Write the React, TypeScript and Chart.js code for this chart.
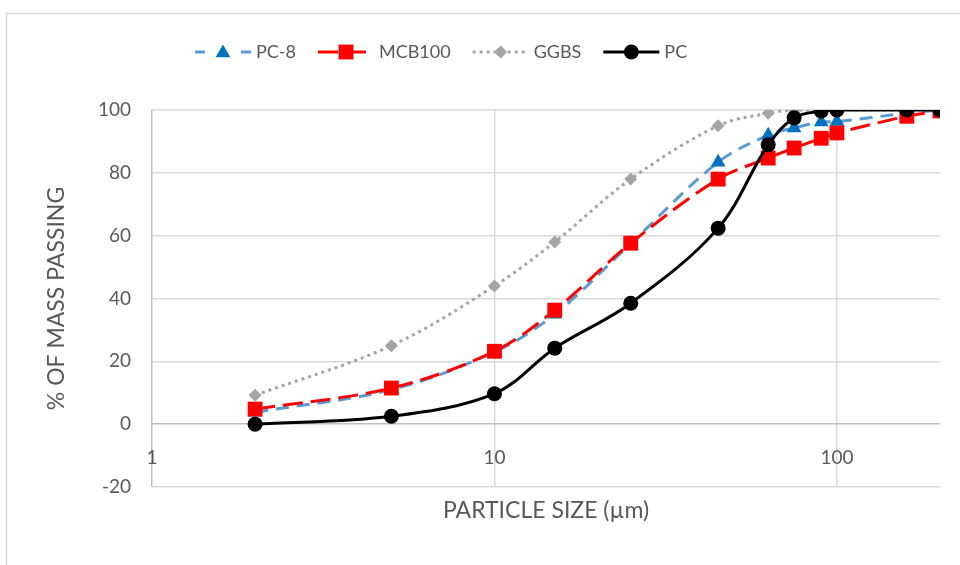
import React, { useEffect, useRef } from 'react';
import { Chart, registerables } from 'chart.js';
Chart.register(...registerables);

// Particle sizes (µm)
const sizes = [2, 5, 10, 15, 25, 45, 63, 75, 90, 100, 160, 200];
// % passing per material
const pc8 = [3.8, 11, 23, 35, 57.5, 83.4, 92, 94.3, 96.2, 96.3, 99, 100];
const mcb100 = [4.8, 11.5, 23.2, 36.3, 57.6, 78, 84.7, 87.9, 91, 92.7, 98, 99.7];
const ggbs = [9.2, 25, 44, 58, 78, 95, 99, 100, 100, 100, 100, 100];
const pc = [0, 2.5, 9.7, 24.2, 38.5, 62.4, 88.9, 97.5, 99.7, 100, 100, 100];

const xTicks = [1, 10, 100];
const xMin = 1;
const xMax = 200;
const yMin = -20;
const yMax = 100;
const yStep = 20;

const legendLabels = ['PC-8', 'MCB100', 'GGBS', 'PC'];

const FONT = 'Lato, "Open Sans", sans-serif';
const TEXT = '#595959';
const GRID = '#D9D9D9';
const AXIS = '#BFBFBF';

type Style = {
  label: string;
  line: string;
  marker: string;
  dash: number[];
  point: string;
  r: number;
  cap: CanvasLineCap;
};

const styles: Style[] = [
  { label: legendLabels[0], line: '#5B9BD5', marker: '#0070C0', dash: [13, 8], point: 'triangle', r: 8.5, cap: 'butt' },
  { label: legendLabels[1], line: '#FF0000', marker: '#FF0000', dash: [20, 8], point: 'rect', r: 10.5, cap: 'butt' },
  { label: legendLabels[2], line: '#A5A5A5', marker: '#A5A5A5', dash: [3, 4], point: 'rectRot', r: 6.5, cap: 'butt' },
  { label: legendLabels[3], line: '#000000', marker: '#000000', dash: [], point: 'circle', r: 7.5, cap: 'butt' },
];

const seriesValues = [pc8, mcb100, ggbs, pc];

function drawMarker(ctx: CanvasRenderingContext2D, style: string, x: number, y: number, r: number, color: string) {
  ctx.save();
  ctx.fillStyle = color;
  ctx.setLineDash([]);
  ctx.beginPath();
  if (style === 'circle') {
    ctx.arc(x, y, r, 0, Math.PI * 2);
  } else if (style === 'rect') {
    const s = Math.SQRT1_2 * r;
    ctx.rect(x - s, y - s, 2 * s, 2 * s);
  } else if (style === 'rectRot') {
    ctx.moveTo(x - r, y);
    ctx.lineTo(x, y - r);
    ctx.lineTo(x + r, y);
    ctx.lineTo(x, y + r);
    ctx.closePath();
  } else if (style === 'triangle') {
    const h = r * 1.5;
    const w = r * Math.sqrt(3);
    ctx.moveTo(x, y - r);
    ctx.lineTo(x + w / 2, y - r + h);
    ctx.lineTo(x - w / 2, y - r + h);
    ctx.closePath();
  }
  ctx.fill();
  ctx.restore();
}

const framePlugin = {
  id: 'frame',
  beforeDraw(chart: any) {
    const ctx = chart.ctx as CanvasRenderingContext2D;
    ctx.save();
    ctx.fillStyle = '#FFFFFF';
    ctx.fillRect(0, 0, chart.width, chart.height);
    ctx.strokeStyle = GRID;
    ctx.lineWidth = 1.5;
    ctx.strokeRect(6.5, 13.5, chart.width + 20, chart.height + 20);
    ctx.restore();
  },
  afterDraw(chart: any) {
    const ctx = chart.ctx as CanvasRenderingContext2D;
    // x tick labels, placed just under the y = 0 axis line (Excel style)
    const xs = chart.scales.x;
    const ys = chart.scales.y;
    ctx.save();
    ctx.font = `19px ${FONT}`;
    ctx.fillStyle = TEXT;
    ctx.textAlign = 'center';
    ctx.textBaseline = 'middle';
    const labelY = ys.getPixelForValue(0) + 34;
    for (const v of xTicks) {
      ctx.fillText(String(v), xs.getPixelForValue(v), labelY);
    }
    ctx.restore();

    // legend
    ctx.save();
    ctx.font = `18px ${FONT}`;
    ctx.textBaseline = 'middle';
    ctx.textAlign = 'left';
    let x = 195;
    const y = 52;
    const lineLen = 56;
    for (const s of styles) {
      ctx.save();
      ctx.strokeStyle = s.line;
      ctx.lineWidth = 3;
      ctx.lineCap = s.cap;
      if (s.point === 'triangle') {
        ctx.beginPath();
        ctx.moveTo(x, y);
        ctx.lineTo(x + 10, y);
        ctx.moveTo(x + lineLen - 10, y);
        ctx.lineTo(x + lineLen, y);
        ctx.stroke();
      } else {
        ctx.setLineDash(s.dash);
        ctx.beginPath();
        ctx.moveTo(x, y);
        ctx.lineTo(x + lineLen, y);
        ctx.stroke();
      }
      ctx.restore();
      drawMarker(ctx, s.point, x + lineLen / 2, y + (s.point === 'triangle' ? 1 : 0), s.r, s.marker);
      ctx.fillStyle = TEXT;
      ctx.fillText(s.label, x + lineLen + 5, y);
      x += lineLen + 5 + ctx.measureText(s.label).width + 22;
    }
    ctx.restore();
  },
};

export default function App() {
  const ref = useRef<HTMLCanvasElement | null>(null);

  useEffect(() => {
    if (!ref.current) return;
    const datasets = styles
      .map((s, i) => ({
        label: s.label,
        data: sizes.map((x, j) => ({ x, y: seriesValues[i][j] })),
        borderColor: s.line,
        backgroundColor: s.marker,
        borderWidth: 3,
        borderDash: s.dash,
        borderCapStyle: s.cap,
        pointStyle: s.point,
        pointRadius: s.r,
        pointHoverRadius: s.r,
        pointBackgroundColor: s.marker,
        pointBorderColor: s.marker,
        pointBorderWidth: 0,
        tension: 0.35,
        fill: false,
      }))
      .reverse();

    const chart = new Chart(ref.current, {
      type: 'line',
      data: { datasets },
      options: {
        responsive: false,
        animation: false,
        layout: { padding: { top: 110, right: 20, left: 0, bottom: 0 } },
        plugins: {
          legend: { display: false },
          tooltip: { enabled: false },
        },
        scales: {
          x: {
            type: 'logarithmic',
            min: xMin,
            max: xMax,
            afterBuildTicks: (s: any) => {
              s.ticks = xTicks.map((v) => ({ value: v }));
            },
            afterFit: (s: any) => {
              s.height = 78;
            },
            grid: {
              color: (c: any) => (c.tick && c.tick.value === 1 ? AXIS : GRID),
              lineWidth: 1.5,
              drawTicks: false,
            },
            border: { display: false },
            ticks: { display: false },
            title: {
              display: true,
              text: 'PARTICLE SIZE (µm)',
              color: TEXT,
              font: { family: FONT, size: 23 },
              padding: { top: 0, bottom: 41 },
            },
          },
          y: {
            min: yMin,
            max: yMax,
            afterFit: (s: any) => {
              s.width = 152;
            },
            grid: {
              color: (c: any) => (c.tick && c.tick.value === 0 ? AXIS : GRID),
              lineWidth: 1.5,
              drawTicks: false,
            },
            border: { display: false },
            ticks: {
              stepSize: yStep,
              padding: 21,
              color: TEXT,
              font: { family: FONT, size: 19 },
            },
            title: {
              display: true,
              text: '% OF MASS PASSING',
              color: TEXT,
              font: { family: FONT, size: 23 },
              padding: { top: 43, bottom: 0 },
            },
          },
        },
      },
      plugins: [framePlugin],
    } as any);
    return () => chart.destroy();
  }, []);

  return (
    <div style={{ position: 'absolute', left: 0, top: 0, width: 960, height: 565 }}>
      <canvas ref={ref} width={960} height={565} style={{ display: 'block' }} />
    </div>
  );
}
